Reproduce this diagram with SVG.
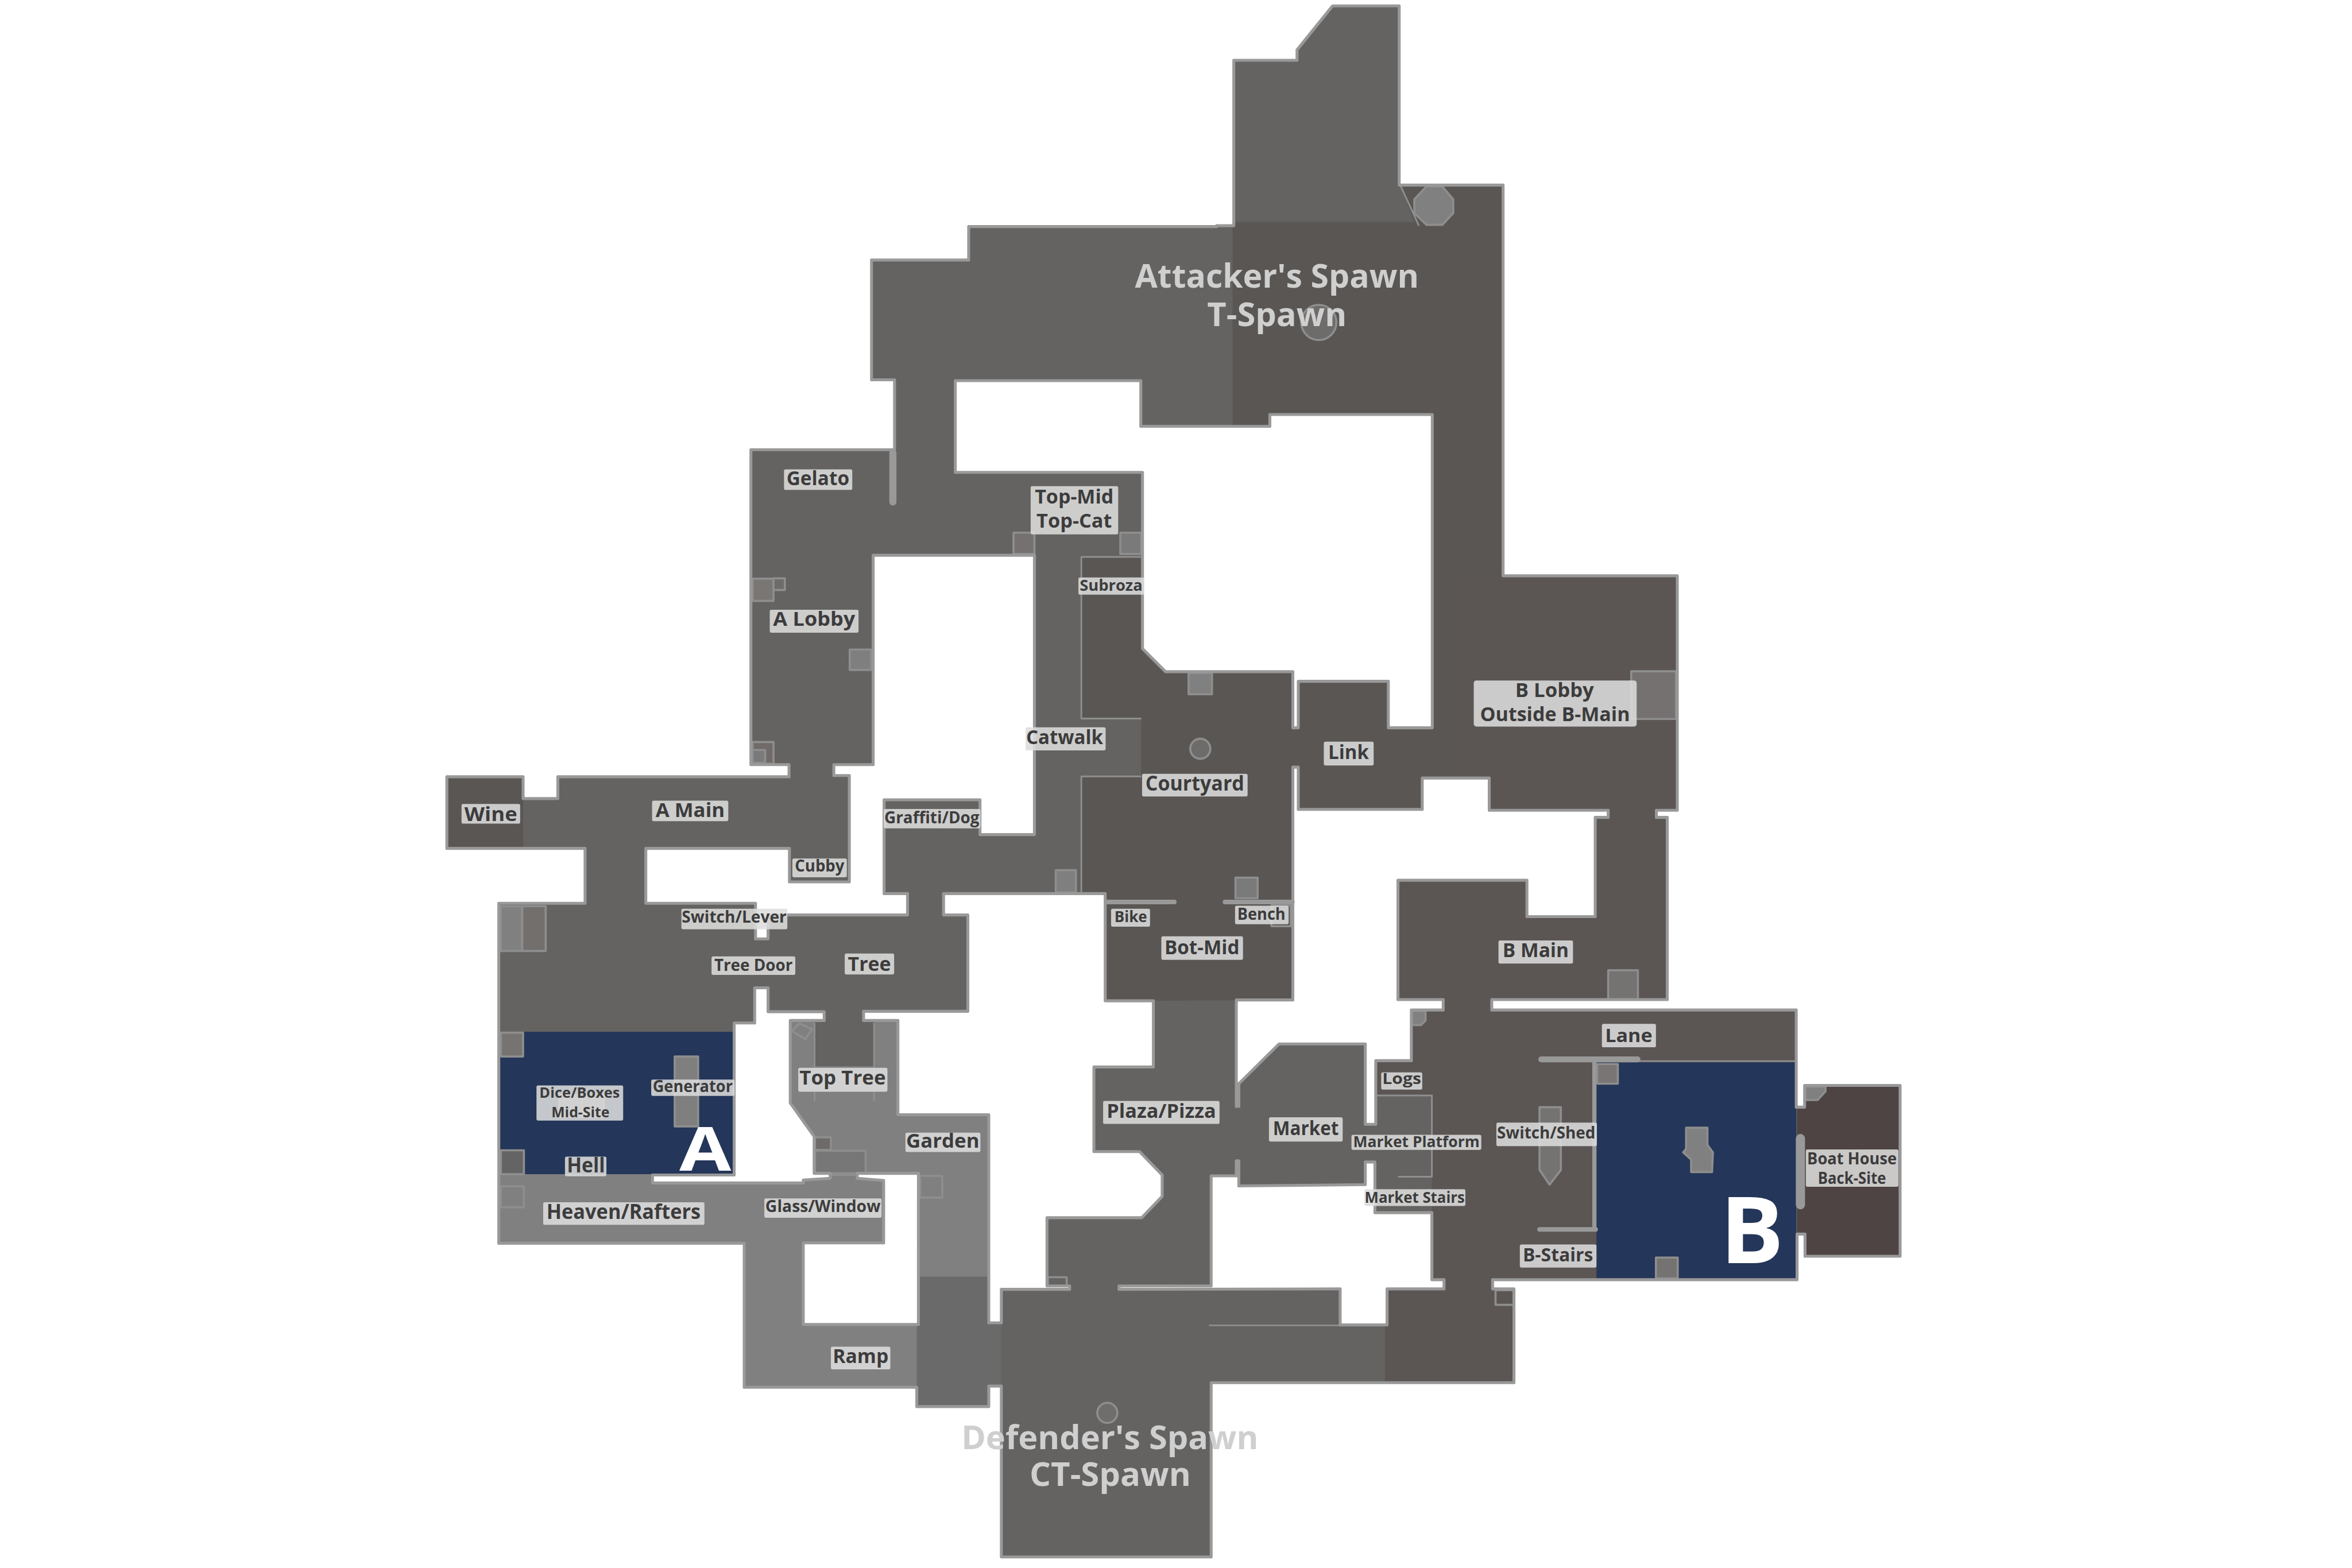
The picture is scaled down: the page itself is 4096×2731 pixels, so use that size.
<svg xmlns="http://www.w3.org/2000/svg" width="4096" height="2731" viewBox="0 0 4096 2731">
<style>
text{font-family:"Open Sans","Liberation Sans",sans-serif;font-weight:700;text-anchor:middle}
.lb rect{fill:#dcdcdc;fill-opacity:.87}
.lb text{fill:#3c3c3c}
.big{fill:#cfcfcf}
.site{fill:#fff;font-weight:700}
.wall{fill:none;stroke:#999;stroke-width:7;stroke-linejoin:round;stroke-linecap:round}
.thin{fill:none;stroke:#8f8f8f;stroke-width:4;stroke-linejoin:round}
.bar{fill:none;stroke:#999;stroke-linecap:round}
.ob{stroke:#8e8e8e;stroke-width:5;stroke-linejoin:round}
</style>
<defs>
<path id="outline" d="M3182 14H3341V442H3589V1375H4005V1935H3955V1952H3981V2387H3562V2412H4289V2644H4309V2592H4537V3000H4310V2947H4291V3056H3564V3078H3615V3302H2892V3718H2391V3310H2361V3359H2189V3313H1777V2969H1191V2157H1397V2026H1067V1855H1249V1907H1332V1855H1884V1826H1793V1074H2136V907H2081V621H2313V541H2905V539H2946V144H3097V119Z
M2253 2134H2639V2390H2754V2548H2612V2750H2721L2775 2806V2857L2726 2908H2500V3071H2554V3079H2391V3159H2361V2662H2144V2437H2062V2415H2311V2185H2253Z
M2085 1326H2470V1993H2340V1910H2111V2134H2167V2185H1834V2242H1804V2157H1542V2026H1885V2106H2028V1852H1991V1826H2085Z
M2281 909H2724V1018H3032V990H3420V1738H3315V1627H3100V1738H3087V1604H2783L2728 1549V1128H2281Z
M3100 1832H3087V2388H2952V2642H2958V2588L3054 2493H3260V2685H3285V2533H3370V2412H3446V2387H3338V2102H3646V2189H3809V1952H3840V1935H3556V1858H3396V1933H3100Z
M2672 3071H2892V2808H2952V2772H2958V2832L3260 2829V2775H3283V2896H3419V3056H3448V3078H3312V3164H3200V3078L2672 3079Z
M1802 2443V2359H1834V2416H1968V2437H1887V2634L1944 2714V2802H1982V2814L1918 2818V2825H1558V2806H1753V2443Z
M2047 2814L2110 2819V2968H1918V3163H2193V2802H2047Z"/>
</defs>
<g id="map" transform="scale(0.72934)">
<use id="floor" href="#outline" fill="#646361" fill-rule="evenodd"/>
<g id="regions">
<path fill="#5a5653" d="M2943 530H3377L3344 443L3589 442V1375H3480V1858H3396V1933H3100V1832H3087V2388L2639 2390V2136H2582V1854H2725V1716H2582V1330H2728V1549L2783 1604H3087V1738H3100V1627H3315V1738H3420V990H3032V1018H2943Z"/>
<path fill="#5b5554" d="M3480 1375H4005V1935H3955V1952H3981V2387H3562V2412H4289V2537H3812V3053L3564 3056V3078H3615V3302H3307V3164H3312V3078H3448V3056H3419V2616H3285V2533H3370V2412H3446V2387H3338V2102H3646V2189H3809V1952H3840V1935H3556V1858H3480Z"/>
<path fill="#5a5653" d="M1067 1855H1249V2026H1067Z"/>
<path fill="#808080" d="M1887 2437H1945V2546H2087V2437H2144V2662H2361V3049H2193V2802H2047V2814L2110 2819V2968H1918V3163H2193V3313H1777V2969H1191V2804H1558V2825H1918V2818L1982 2814V2802H1944V2714L1887 2634Z"/>
<path fill="#6a6a6a" d="M2193 3049H2361V3159H2391V3310H2361V3359H2189V3163H2193Z"/>
<path fill="#4d4443" d="M4291 2644H4309V2592H4537V3000H4310V2947H4291Z"/>
<rect id="site-a" x="1194" y="2464" width="559" height="340" fill="#243659"/>
<rect id="site-b" x="3812" y="2537" width="477" height="516" fill="#243659"/>
</g>
<g id="objects">
<g class="ob">
<rect x="1196" y="2164" width="51" height="107" fill="#808080"/>
<rect x="1247" y="2164" width="56" height="107" fill="#726f6d"/>
<rect x="1196" y="2466" width="53" height="57" fill="#767371"/>
<rect x="1196" y="2747" width="55" height="57" fill="#646464"/>
<rect x="1196" y="2833" width="55" height="50" fill="#808080"/>
<rect x="1611" y="2523" width="56" height="167" fill="#7f7f7f"/>
<rect x="1335" y="2615" width="54" height="52" fill="#808080"/>
<rect x="1389" y="2615" width="53" height="52" fill="#808080"/>
<rect x="2197" y="2808" width="53" height="52" fill="none"/>
<path d="M1890 2462L1909 2444L1939 2458L1923 2481Z" fill="none"/>
<rect x="1946" y="2716" width="38" height="30" fill="#6e6a6a"/>
<rect x="1946" y="2748" width="121" height="54" fill="#777"/>
<rect x="1797" y="1382" width="50" height="53" fill="#7a7674"/>
<rect x="1847" y="1381" width="27" height="28" fill="#6e6b6b"/>
<rect x="2029" y="1551" width="51" height="49" fill="#7f7f7f"/>
<rect x="1797" y="1772" width="50" height="52" fill="#706b69"/>
<rect x="1797" y="1791" width="30" height="31" fill="#7a7a7a"/>
<rect x="2420" y="1272" width="50" height="51" fill="#767171"/>
<rect x="2675" y="1272" width="50" height="51" fill="#7a7a7a"/>
<rect x="2521" y="2078" width="48" height="53" fill="#7f7f7f"/>
<rect x="2838" y="1607" width="56" height="51" fill="#808080"/>
<rect x="2950" y="2096" width="53" height="49" fill="#7a7a7a"/>
<rect x="3036" y="2162" width="46" height="50" fill="none"/>
<rect x="3895" y="1603" width="107" height="114" fill="#757170"/>
<rect x="3840" y="2317" width="71" height="70" fill="#757372"/>
<path d="M3371 2414H3404V2437L3393 2448H3371Z" fill="#808080"/>
<rect x="3814" y="2541" width="49" height="47" fill="#787574"/>
<path d="M3676 2644H3727V2794L3700 2829L3676 2794Z" fill="#757372"/>
<path d="M4026 2693H4077V2734L4090 2752L4088 2799H4038V2769L4019 2752L4026 2743Z" fill="#808080"/>
<rect x="3954" y="3003" width="52" height="50" fill="#757372"/>
<path d="M4310 2595H4359V2606L4340 2627H4310Z" fill="#808080"/>
<rect x="3571" y="3081" width="44" height="35" fill="none"/>
<rect x="2502" y="3050" width="45" height="21" fill="none"/>
<path d="M3406 445H3444L3470 476V509L3444 537H3406L3377 509V476Z" fill="#808080"/>
<circle cx="3149" cy="770" r="42" fill="#6e6c6b"/>
<circle cx="2866" cy="1788" r="24" fill="#6e6c6b"/>
<circle cx="2644" cy="3374" r="24" fill="#706e6d"/>
</g>
<path class="thin" d="M3344 443L3388 539M2728 1330H2582V1716H2725M2725 1854H2582V2136M3283 2616H3419V2810H3338M2887 3165H3200M1945 2443V2630M2087 2443V2630M1982 2806H2047M3812 2534H4289"/>
<g fill="none">
<path class="bar" stroke-width="17" d="M2132 1082V1199"/>
<path class="bar" stroke-width="11" d="M2641 2154H2804M2925 2154H3086M3676 2936H3810"/>
<path class="bar" stroke-width="14" d="M3680 2530H3910"/>
<path class="bar" stroke-width="10" d="M3807 2537V2936"/>
<path class="bar" stroke-width="22" d="M4299 2719V2877"/>
</g>
</g>
<use id="walls" href="#outline" class="wall"/>
<g id="labels">
<g class="lb" id="label-wine"><rect x="1102" y="1920" width="140" height="47" rx="4"/><text x="1172" y="1960" font-size="47" textLength="126" lengthAdjust="spacingAndGlyphs">Wine</text></g>
<g class="lb" id="label-a-main"><rect x="1557" y="1912" width="182" height="49" rx="4"/><text x="1648" y="1951" font-size="47" textLength="165" lengthAdjust="spacingAndGlyphs">A Main</text></g>
<g class="lb" id="label-graffiti"><rect x="2110" y="1932" width="231" height="46" rx="4"/><text x="2225" y="1966" font-size="40" textLength="227" lengthAdjust="spacingAndGlyphs">Graffiti/Dog</text></g>
<g class="lb" id="label-cubby"><rect x="1892" y="2050" width="130" height="45" rx="4"/><text x="1957" y="2081" font-size="38" textLength="118" lengthAdjust="spacingAndGlyphs">Cubby</text></g>
<g class="lb" id="label-switch-lever"><rect x="1627" y="2170" width="253" height="49" rx="4"/><text x="1753" y="2204" font-size="40" textLength="250" lengthAdjust="spacingAndGlyphs">Switch/Lever</text></g>
<g class="lb" id="label-tree-door"><rect x="1699" y="2284" width="200" height="44" rx="4"/><text x="1799" y="2318" font-size="40" textLength="187" lengthAdjust="spacingAndGlyphs">Tree Door</text></g>
<g class="lb" id="label-tree"><rect x="2017" y="2277" width="118" height="50" rx="4"/><text x="2076" y="2318" font-size="47" textLength="103" lengthAdjust="spacingAndGlyphs">Tree</text></g>
<g class="lb" id="label-top-tree"><rect x="1906" y="2550" width="213" height="57" rx="4"/><text x="2012" y="2590" font-size="47" textLength="206" lengthAdjust="spacingAndGlyphs">Top Tree</text></g>
<g class="lb" id="label-dice"><rect x="1281" y="2592" width="207" height="84" rx="4"/><text x="1384" y="2622" font-size="34" textLength="192" lengthAdjust="spacingAndGlyphs">Dice/Boxes</text><text x="1386" y="2668" font-size="34" textLength="139" lengthAdjust="spacingAndGlyphs">Mid-Site</text></g>
<g class="lb" id="label-generator"><rect x="1555" y="2578" width="199" height="39" rx="4"/><text x="1654" y="2608" font-size="38" textLength="191" lengthAdjust="spacingAndGlyphs">Generator</text></g>
<g class="lb" id="label-hell"><rect x="1349" y="2762" width="99" height="47" rx="4"/><text x="1399" y="2800" font-size="50" textLength="91" lengthAdjust="spacingAndGlyphs">Hell</text></g>
<g class="lb" id="label-heaven"><rect x="1297" y="2871" width="385" height="54" rx="4"/><text x="1489" y="2911" font-size="48" textLength="368" lengthAdjust="spacingAndGlyphs">Heaven/Rafters</text></g>
<g class="lb" id="label-glass"><rect x="1825" y="2862" width="280" height="46" rx="4"/><text x="1965" y="2895" font-size="39" textLength="275" lengthAdjust="spacingAndGlyphs">Glass/Window</text></g>
<g class="lb" id="label-garden"><rect x="2162" y="2705" width="179" height="46" rx="4"/><text x="2251" y="2741" font-size="47" textLength="175" lengthAdjust="spacingAndGlyphs">Garden</text></g>
<g class="lb" id="label-lane"><rect x="3825" y="2445" width="129" height="56" rx="4"/><text x="3889" y="2488" font-size="45" textLength="113" lengthAdjust="spacingAndGlyphs">Lane</text></g>
<g class="lb" id="label-logs"><rect x="3298" y="2561" width="98" height="41" rx="4"/><text x="3347" y="2588" font-size="36" textLength="93" lengthAdjust="spacingAndGlyphs">Logs</text></g>
<g class="lb" id="label-switch-shed"><rect x="3573" y="2681" width="240" height="56" rx="4"/><text x="3692" y="2719" font-size="38" textLength="235" lengthAdjust="spacingAndGlyphs">Switch/Shed</text></g>
<g class="lb" id="label-market-platform"><rect x="3227" y="2710" width="310" height="36" rx="4"/><text x="3382" y="2740" font-size="37" textLength="302" lengthAdjust="spacingAndGlyphs">Market Platform</text></g>
<g class="lb" id="label-market-stairs"><rect x="3258" y="2840" width="241" height="40" rx="4"/><text x="3378" y="2872" font-size="36" textLength="239" lengthAdjust="spacingAndGlyphs">Market Stairs</text></g>
<g class="lb" id="label-b-stairs"><rect x="3629" y="2972" width="183" height="55" rx="4"/><text x="3720" y="3012" font-size="45" textLength="168" lengthAdjust="spacingAndGlyphs">B-Stairs</text></g>
<g class="lb" id="label-boat"><rect x="4312" y="2745" width="221" height="89" rx="4"/><text x="4422" y="2781" font-size="38" textLength="214" lengthAdjust="spacingAndGlyphs">Boat House</text><text x="4422" y="2827" font-size="38" textLength="163" lengthAdjust="spacingAndGlyphs">Back-Site</text></g>
<g class="lb" id="label-top-mid"><rect x="2461" y="1161" width="209" height="115" rx="4"/><text x="2565" y="1202" font-size="46" textLength="188" lengthAdjust="spacingAndGlyphs">Top-Mid</text><text x="2565" y="1260" font-size="46" textLength="180" lengthAdjust="spacingAndGlyphs">Top-Cat</text></g>
<g class="lb" id="label-subroza"><rect x="2575" y="1379" width="157" height="41" rx="4"/><text x="2653" y="1411" font-size="36" textLength="150" lengthAdjust="spacingAndGlyphs">Subroza</text></g>
<g class="lb" id="label-catwalk"><rect x="2449" y="1737" width="191" height="55" rx="4"/><text x="2542" y="1777" font-size="47" textLength="184" lengthAdjust="spacingAndGlyphs">Catwalk</text></g>
<g class="lb" id="label-courtyard"><rect x="2727" y="1848" width="252" height="54" rx="4"/><text x="2853" y="1888" font-size="48" textLength="236" lengthAdjust="spacingAndGlyphs">Courtyard</text></g>
<g class="lb" id="label-link"><rect x="3161" y="1771" width="119" height="57" rx="4"/><text x="3220" y="1812" font-size="47" textLength="97" lengthAdjust="spacingAndGlyphs">Link</text></g>
<g class="lb" id="label-bike"><rect x="2653" y="2170" width="93" height="43" rx="4"/><text x="2700" y="2202" font-size="36" textLength="78" lengthAdjust="spacingAndGlyphs">Bike</text></g>
<g class="lb" id="label-bench"><rect x="2949" y="2163" width="128" height="44" rx="4"/><text x="3012" y="2196" font-size="38" textLength="115" lengthAdjust="spacingAndGlyphs">Bench</text></g>
<g class="lb" id="label-bot-mid"><rect x="2773" y="2236" width="195" height="56" rx="4"/><text x="2870" y="2279" font-size="47" textLength="179" lengthAdjust="spacingAndGlyphs">Bot-Mid</text></g>
<g class="lb" id="label-plaza"><rect x="2634" y="2629" width="278" height="55" rx="4"/><text x="2773" y="2670" font-size="47" textLength="261" lengthAdjust="spacingAndGlyphs">Plaza/Pizza</text></g>
<g class="lb" id="label-ramp"><rect x="1984" y="3216" width="142" height="54" rx="4"/><text x="2055" y="3255" font-size="47" textLength="133" lengthAdjust="spacingAndGlyphs">Ramp</text></g>
<g class="lb" id="label-market"><rect x="3030" y="2668" width="176" height="58" rx="4"/><text x="3118" y="2710" font-size="47" textLength="157" lengthAdjust="spacingAndGlyphs">Market</text></g>
<g class="lb" id="label-gelato"><rect x="1872" y="1121" width="163" height="49" rx="4"/><text x="1953" y="1158" font-size="47" textLength="150" lengthAdjust="spacingAndGlyphs">Gelato</text></g>
<g class="lb" id="label-a-lobby"><rect x="1838" y="1456" width="212" height="55" rx="4"/><text x="1944" y="1495" font-size="47" textLength="196" lengthAdjust="spacingAndGlyphs">A Lobby</text></g>
<g class="lb" id="label-b-lobby"><rect x="3519" y="1625" width="389" height="110" rx="6"/><text x="3712" y="1665" font-size="46" textLength="188" lengthAdjust="spacingAndGlyphs">B Lobby</text><text x="3713" y="1722" font-size="46" textLength="358" lengthAdjust="spacingAndGlyphs">Outside B-Main</text></g>
<g class="lb" id="label-b-main"><rect x="3578" y="2246" width="178" height="55" rx="4"/><text x="3667" y="2286" font-size="46" textLength="158" lengthAdjust="spacingAndGlyphs">B Main</text></g>
<g id="label-t-spawn"><text class="big" x="3049" y="687" font-size="78" textLength="678" lengthAdjust="spacingAndGlyphs">Attacker's Spawn</text><text class="big" x="3049" y="779" font-size="78" textLength="333" lengthAdjust="spacingAndGlyphs">T-Spawn</text></g>
<g id="label-ct-spawn"><text class="big" x="2650" y="3460" font-size="78" textLength="709" lengthAdjust="spacingAndGlyphs">Defender's Spawn</text><text class="big" x="2651" y="3549" font-size="78" textLength="385" lengthAdjust="spacingAndGlyphs">CT-Spawn</text></g>
<text id="site-label-a" class="site" x="1684" y="2795" font-size="145" textLength="124" lengthAdjust="spacingAndGlyphs">A</text>
<text id="site-label-b" class="site" x="4183" y="3016" font-size="222" textLength="152" lengthAdjust="spacingAndGlyphs">B</text>
</g>
</g>
</svg>
